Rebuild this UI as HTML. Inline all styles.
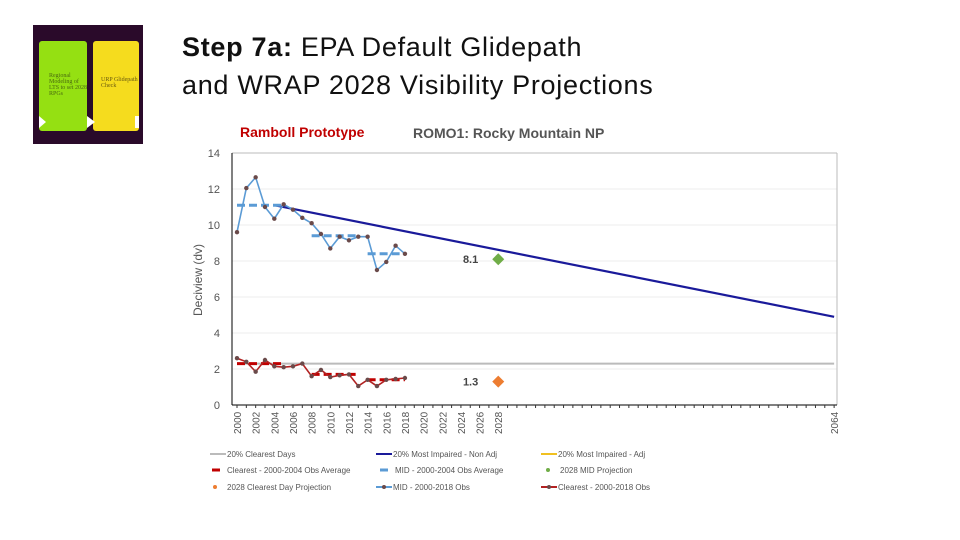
<!DOCTYPE html>
<html><head><meta charset="utf-8"><style>
body{margin:0;width:960px;height:540px;background:#fff;overflow:hidden;position:relative;font-family:"Liberation Sans",sans-serif}
.t{position:absolute;left:182px;top:28px;font-size:27px;line-height:38px;color:#111;letter-spacing:0.7px}
</style></head><body>
<div style="position:absolute;left:33px;top:25px;width:110px;height:119px;background:#2a0a2a">
 <div style="position:absolute;left:6px;top:16px;width:48px;height:90px;background:#95e012;border-radius:3px;font:6px 'Liberation Serif',serif;color:#4a6a10;padding:32px 0 0 10px;box-sizing:border-box">Regional Modeling of LTS to set 2028 RPGs</div>
 <div style="position:absolute;left:60px;top:16px;width:46px;height:90px;background:#f5dc1e;border-radius:3px;font:6px 'Liberation Serif',serif;color:#6a5a10;padding:36px 0 0 8px;box-sizing:border-box">URP Glidepath Check</div>
 <div style="position:absolute;left:6px;top:91px;width:0;height:0;border-left:7px solid #fff;border-top:6px solid transparent;border-bottom:6px solid transparent"></div>
 <div style="position:absolute;left:54px;top:91px;width:0;height:0;border-left:8px solid #fff;border-top:6px solid transparent;border-bottom:6px solid transparent"></div>
 <div style="position:absolute;left:102px;top:91px;width:4px;height:12px;background:#fff"></div>
</div>
<div class="t"><b>Step 7a:</b> EPA Default Glidepath<br>and WRAP 2028 Visibility Projections</div>
<svg id="c" width="960" height="540" style="position:absolute;left:0;top:0" font-family="Liberation Sans, sans-serif"></svg>
<script>
const midYears=[2000,2001,2002,2003,2004,2005,2006,2007,2008,2009,2010,2011,2012,2013,2014,2015,2016,2017,2018];
const midObs=[9.6,12.05,12.65,11.0,10.35,11.15,10.85,10.4,10.1,9.5,8.7,9.35,9.15,9.35,9.35,7.5,7.95,8.85,8.4];
const clrObs=[2.6,2.4,1.85,2.5,2.15,2.1,2.15,2.3,1.6,1.95,1.55,1.65,1.7,1.05,1.4,1.05,1.4,1.45,1.5];
const midAvg=[[2000,2004.8,11.1],[2008,2013,9.4],[2014,2018,8.4]];
const clrAvg=[[2000,2004.8,2.3],[2008,2013,1.7],[2014,2018,1.4]];
const glide=[[2004,11.1],[2064,4.9]];
const clearLine=2.3;
const proj=[[2028,8.1,'#70ad47','8.1'],[2028,1.3,'#ed7d31','1.3']];
const yTicks=[0,2,4,6,8,10,12,14];
const xLabels=[2000,2002,2004,2006,2008,2010,2012,2014,2016,2018,2020,2022,2024,2026,2028,2064];
const svg=document.getElementById('c');const NS='http://www.w3.org/2000/svg';
const X=y=>237+(y-2000)*9.33, Y=v=>405-v*18;
function el(t,a,p){const e=document.createElementNS(NS,t);for(const k in a)e.setAttribute(k,a[k]);(p||svg).appendChild(e);return e;}
for(const v of yTicks){
 const g=el('line',{x1:232,x2:837,y1:Y(v),y2:Y(v),stroke:v==14?'#bbb':'#eee'});
 
 
 const t=el('text',{x:220,y:Y(v)+4,'font-size':11,'text-anchor':'end',fill:'#555'});t.textContent=v;
 
 
}
el('line',{x1:837,x2:837,y1:153,y2:405,stroke:'#bbb'});
el('line',{x1:232,x2:232,y1:153,y2:405,stroke:'#000'});
el('line',{x1:232,x2:837,y1:405,y2:405,stroke:'#000'});
for(let y=2000;y<=2064;y++){el('line',{x1:X(y),x2:X(y),y1:405,y2:408,stroke:'#333'});}
for(const y of xLabels){const t=el('text',{transform:`translate(${X(y)+4},434) rotate(-90)`,'font-size':10,fill:'#555'});t.textContent=y;
 
 }
const yt=el('text',{transform:'translate(202,280) rotate(-90)','font-size':12,'text-anchor':'middle',fill:'#555'});yt.textContent='Deciview (dv)';


const cl=el('line',{x1:X(2000),x2:X(2064),y1:Y(clearLine),y2:Y(clearLine),stroke:'#bbb','stroke-width':2});


const gp=el('line',{x1:X(glide[0][0]),y1:Y(glide[0][1]),x2:X(glide[1][0]),y2:Y(glide[1][1]),stroke:'#1a1a9a','stroke-width':2.2});


function avg(arr,c,name){for(const a of arr){const l=el('line',{x1:X(a[0]),x2:X(a[1]),y1:Y(a[2]),y2:Y(a[2]),stroke:c,'stroke-width':3,'stroke-dasharray':'8,4'});
 
 }}
function series(vals,c,name){const p=el('polyline',{points:vals.map((v,i)=>X(midYears[i])+','+Y(v)).join(' '),fill:'none',stroke:c,'stroke-width':1.6});
 
 
 vals.forEach((v,i)=>{const d=el('circle',{cx:X(midYears[i]),cy:Y(v),r:2.2,fill:'#6a4a4a'});
 
 });}
avg(midAvg,'#5b9bd5','mid-average');
series(midObs,'#5b9bd5','mid-obs-line');
avg(clrAvg,'#c00000','clearest-average');
series(clrObs,'#b22222','clearest-obs-line');
for(const p of proj){const x=X(p[0]),y=Y(p[1]);const d=el('path',{d:`M${x} ${y-6}L${x+6} ${y}L${x} ${y+6}L${x-6} ${y}Z`,fill:p[2]});
 
 
 const t=el('text',{x:x-20,y:y+4,'font-size':11,'font-weight':'bold','text-anchor':'end',fill:'#444'});t.textContent=p[3];
 
 }
const h1=el('text',{x:240,y:137,'font-size':14,'font-weight':'bold',fill:'#c00000'});h1.textContent='Ramboll Prototype';


const h2=el('text',{x:413,y:138,'font-size':14,'font-weight':'bold',fill:'#555'});h2.textContent='ROMO1: Rocky Mountain NP';


const leg=[[210,454,'line','#bbb','20% Clearest Days'],[376,454,'line','#1a1a9a','20% Most Impaired - Non Adj'],[541,454,'line','#f0c020','20% Most Impaired - Adj'],
[212,470,'dash','#c00000','Clearest - 2000-2004 Obs Average'],[380,470,'dash','#5b9bd5','MID - 2000-2004 Obs Average'],[545,470,'dot','#70ad47','2028 MID Projection'],
[212,487,'dot','#ed7d31','2028 Clearest Day Projection'],[376,487,'ld','#5b9bd5','MID - 2000-2018 Obs'],[541,487,'ld','#b22222','Clearest - 2000-2018 Obs']];
for(const l of leg){const [x,y,k,c,txt]=l;let tx;
 if(k=='line'||k=='ld'){el('line',{x1:x,x2:x+16,y1:y,y2:y,stroke:c,'stroke-width':2});if(k=='ld')el('circle',{cx:x+8,cy:y,r:2,fill:'#6a4a4a'});tx=x+17;}
 else if(k=='dash'){el('line',{x1:x,x2:x+8,y1:y,y2:y,stroke:c,'stroke-width':3});tx=x+15;}
 else {el('circle',{cx:x+3,cy:y,r:2,fill:c});tx=x+15;}
 const t=el('text',{x:tx,y:y+3,'font-size':8,fill:'#555'});t.textContent=txt;
 
 }
</script>
</body></html>
